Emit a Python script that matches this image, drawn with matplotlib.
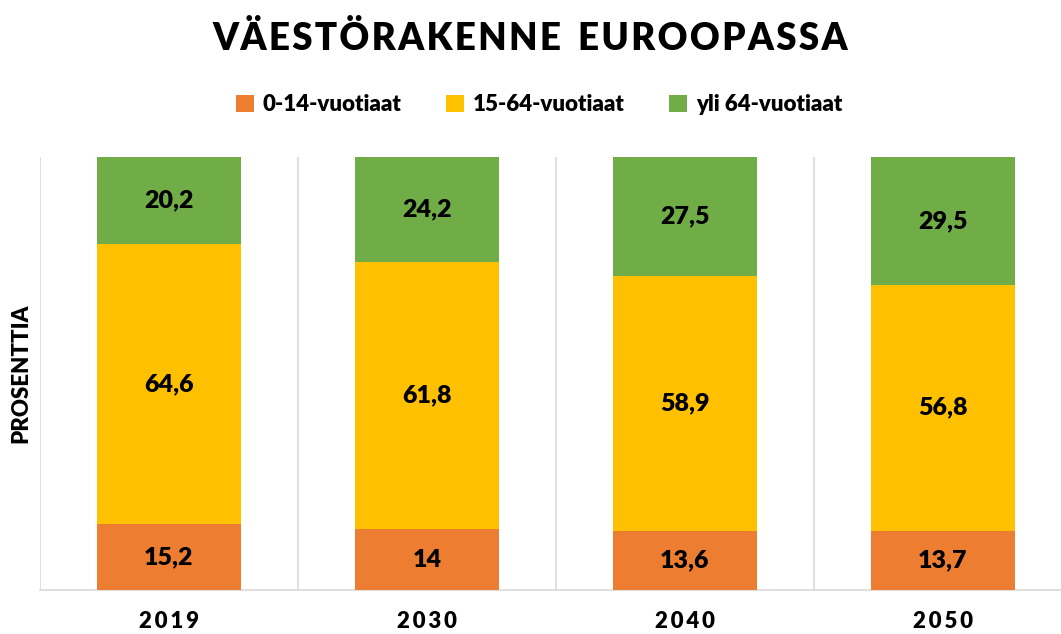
import matplotlib.pyplot as plt
import numpy as np

plt.rcParams["font.family"] = ["Lato", "DejaVu Sans"]

years = ["2019", "2030", "2040", "2050"]
lapset = [15.2, 14, 13.6, 13.7]
tyoikaiset = [64.6, 61.8, 58.9, 56.8]
vanhat = [20.2, 24.2, 27.5, 29.5]
series_names = ["0-14-vuotiaat", "15-64-vuotiaat", "yli 64-vuotiaat"]
colors = ["#ED7D31", "#FFC000", "#70AD47"]


def fmt(v):
    s = ("%g" % v).replace(".", ",")
    return s


fig = plt.figure(figsize=(10.61, 6.34), dpi=100)
ax = fig.add_axes([40 / 1061, 1 - 590 / 634, 1032 / 1061, 433 / 634])

x = np.arange(len(years))
bottom = np.zeros(len(years))
for vals, name, col in zip([lapset, tyoikaiset, vanhat], series_names, colors):
    bars = ax.bar(x, vals, 0.56, bottom=bottom, color=col, label=name, zorder=3)
    for b, v in zip(bars, vals):
        ax.text(b.get_x() + b.get_width() / 2, b.get_y() + b.get_height() / 2, fmt(v),
                ha="center", va="center", fontsize=18, fontweight="heavy", color="black", zorder=4)
    bottom += np.array(vals)

ax.set_xlim(-0.5, len(years) - 0.5)
ax.set_ylim(0, 100)
ax.set_yticks([])
ax.set_xticks(x)
ax.set_xticklabels(["\u2009".join(y) for y in years], fontsize=16, fontweight="heavy")
ax.tick_params(axis="x", length=0, pad=15)
for xv in np.arange(-0.5, len(years), 1):
    ax.axvline(xv, color="#D9D9D9", lw=1.2, zorder=1)
for s in ["top", "right", "left"]:
    ax.spines[s].set_visible(False)
ax.spines["bottom"].set_color("#D9D9D9")
ax.spines["bottom"].set_linewidth(1.2)

ax.set_ylabel("PROSENTTIA", fontsize=16, fontweight="heavy", labelpad=6)

fig.text(0.50, 0.939, "\u200a".join("VÄESTÖRAKENNE") + "  " + "\u200a".join("EUROOPASSA"),
         ha="center", va="center", fontsize=26.5, fontweight="heavy")
fig.legend(loc="center", bbox_to_anchor=(0.508, 0.835), ncol=3, frameon=False,
           handlelength=0.8, handleheight=0.8, columnspacing=2.0,
           handletextpad=0.4, prop={"weight": "heavy", "size": 16})

fig.savefig("out.png", dpi=100)
